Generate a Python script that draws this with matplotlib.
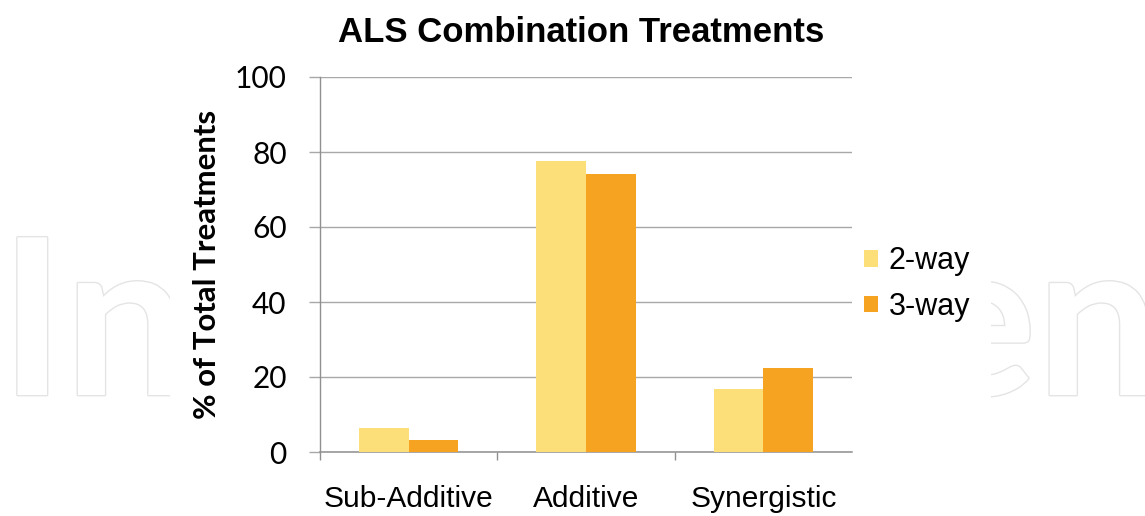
import matplotlib
matplotlib.use("Agg")
import matplotlib.pyplot as plt
import matplotlib.patheffects as pe
from matplotlib.patches import Rectangle
import numpy as np

categories = ["Sub-Additive", "Additive", "Synergistic"]
series_names = ["2-way", "3-way"]
two_way = [6.4, 77.7, 16.7]
three_way = [3.3, 74.2, 22.3]
yticks = [0, 20, 40, 60, 80, 100]

c2 = "#FCDF78"
c3 = "#F7A322"

W, H = 1145, 516
fig = plt.figure(figsize=(W / 100, H / 100), dpi=100)
fig.patch.set_facecolor("white")

# watermark (behind the chart area)
wm = dict(color="white", fontsize=157, family="Lato", weight="bold",
          va="baseline", zorder=-2,
          path_effects=[pe.withStroke(linewidth=2, foreground="#e4e4e4")])
fig.text(0 / W, 1 - 395 / H, "In", ha="left", **wm)
fig.text(920 / W, 1 - 395 / H, "en", ha="left", **wm)
fig.patches.append(Rectangle((170 / W, 0), (991 - 170) / W, 1,
                             transform=fig.transFigure, facecolor="white",
                             edgecolor="none", zorder=-1))

ax = fig.add_axes([320 / W, 1 - 452 / H, (852 - 320) / W, (452 - 77) / H])
ax.set_facecolor("none")

x = np.arange(len(categories))
bw = 0.28
b2 = ax.bar(x - bw / 2, two_way, bw, color=c2, label=series_names[0], zorder=3)
b3 = ax.bar(x + bw / 2, three_way, bw, color=c3, label=series_names[1], zorder=3)

ax.set_xlim(-0.5, len(categories) - 0.5)
ax.set_ylim(0, 100)
ax.set_yticks(yticks)
ax.set_yticklabels([str(t) for t in yticks], family="Lato", fontsize=21.5)
ax.yaxis.grid(True, color="#a8a8a8", linewidth=1.0, zorder=0)
ax.set_axisbelow(True)

ax.set_xticks(x)
ax.set_xticklabels(categories, family="Liberation Sans", fontsize=21.5)
ax.tick_params(axis="x", which="major", length=0, pad=24)
ax.set_xticks([-0.5, 0.5, 1.5], minor=True)
ax.tick_params(axis="x", which="minor", length=6, color="#909090", width=1)
ax.tick_params(axis="y", length=8, color="#a8a8a8", width=1, pad=16)

for s in ["top", "right"]:
    ax.spines[s].set_visible(False)
ax.spines["left"].set_color("#909090")
ax.spines["bottom"].set_color("#909090")
ax.spines["left"].set_linewidth(1)
ax.spines["bottom"].set_linewidth(1.1)

ax.set_ylabel("% of Total Treatments", family="Lato", weight="bold",
              fontsize=22.4, labelpad=10)

fig.text(581 / W, 1 - 33 / H, "ALS Combination Treatments",
         ha="center", va="center", family="Liberation Sans",
         weight="bold", fontsize=25)

leg = ax.legend(handles=[b2, b3], labels=series_names, loc="center left",
                bbox_to_anchor=(864 / W, 1 - 284 / H),
                bbox_transform=fig.transFigure, frameon=False,
                prop={"family": "Liberation Sans", "size": 22},
                handlelength=0.45, handleheight=0.45, handletextpad=0.35,
                labelspacing=0.5, borderpad=0, borderaxespad=0)

fig.savefig("out.png", dpi=100, facecolor="white")
